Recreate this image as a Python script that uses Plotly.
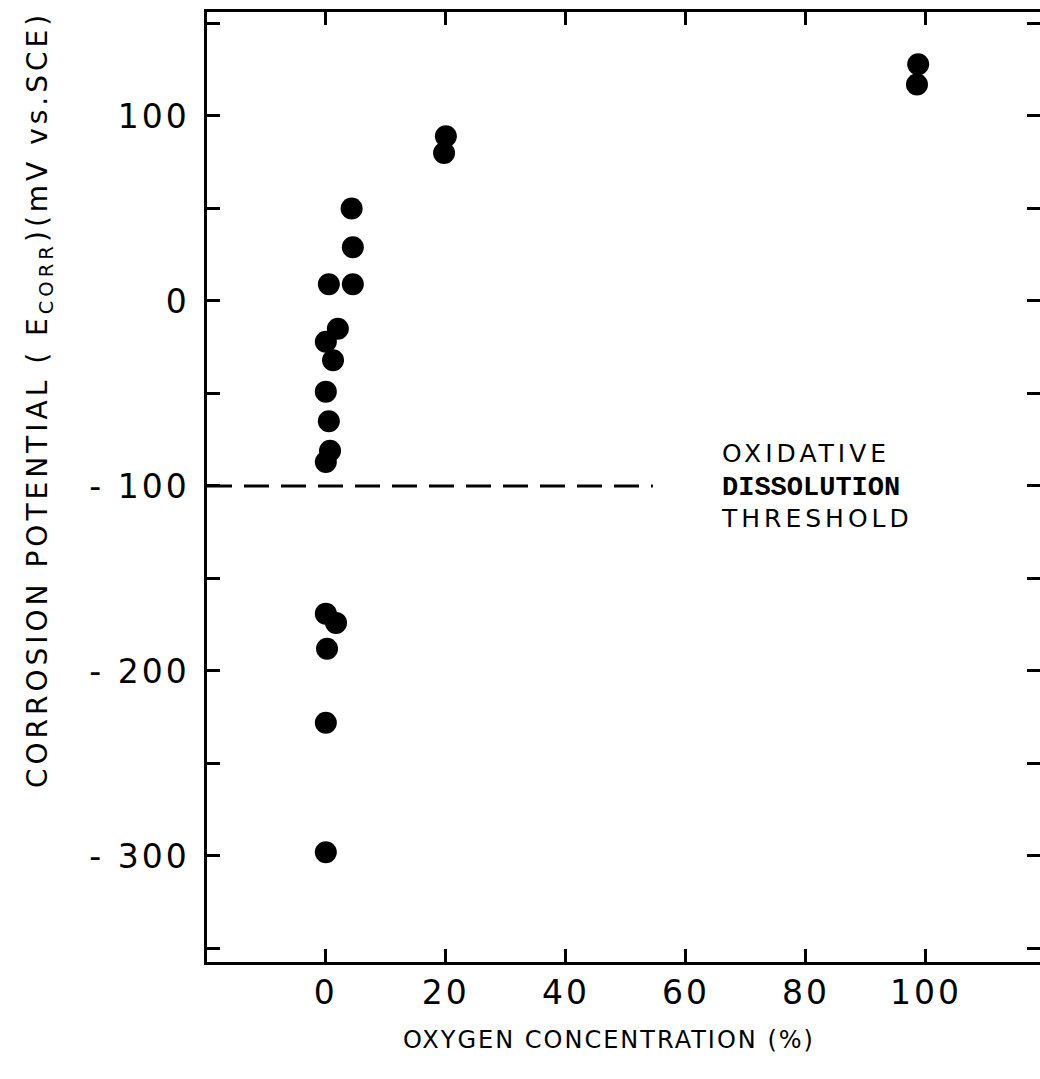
import plotly.graph_objects as go

# ---- data ----
oxygen_pct = [98.7, 98.5, 20.0, 19.7, 4.3, 4.5, 0.5, 4.5, 2.0, 0.0, 1.2, 0.0,
              0.5, 0.7, 0.0, 0.0, 1.7, 0.2, 0.0, 0.0]
ecorr_mv = [128, 117, 89, 80, 50, 29, 9, 9, -15, -22, -32, -49,
            -65, -81, -87, -169, -174, -188, -228, -298]
threshold_mv = -100
threshold_x = [-19.8, 54.5]
x_ticks = [0, 20, 40, 60, 80, 100]
y_ticks = [-300, -200, -100, 0, 100]
y_labels = ["- 300", "- 200", "- 100", "0", "100"]

X_RANGE = [-19.8, 119.0]
Y_RANGE = [-357.3, 156.2]

ls = "letter-spacing:3px"
y_ticktext = [f"<span style='{ls}'>{t}</span>" for t in y_labels]
x_ticktext = [f"<span style='{ls}'>{v}</span>" for v in x_ticks]

fig = go.Figure()

fig.add_trace(go.Scatter(
    x=threshold_x, y=[threshold_mv, threshold_mv], mode="lines",
    line=dict(color="black", width=3, dash="25px,12px"),
    hoverinfo="skip", showlegend=False))

fig.add_trace(go.Scatter(
    x=oxygen_pct, y=ecorr_mv, mode="markers",
    marker=dict(color="black", size=22, line=dict(width=0)),
    showlegend=False))

# invisible trace on secondary y axis for right-hand ticks
fig.add_trace(go.Scatter(x=[None], y=[None], yaxis="y2", showlegend=False))

tickfont = dict(family="DejaVu Sans", size=33, color="black")
minor_y = dict(dtick=50, tick0=0, ticks="inside", ticklen=13, tickwidth=2.5,
               tickcolor="black", showgrid=False)

fig.update_layout(
    width=1040, height=1079,
    margin=dict(l=207, r=0, t=12, b=117),
    paper_bgcolor="white", plot_bgcolor="white",
    xaxis=dict(range=X_RANGE, tickvals=x_ticks, ticktext=x_ticktext,
               ticks="inside", ticklen=13, tickwidth=2.5, tickcolor="black",
               showline=True, linewidth=2.5, linecolor="black", mirror="ticks",
               showgrid=False, zeroline=False, tickfont=tickfont,
               ticklabelstandoff=0),
    yaxis=dict(range=Y_RANGE, tickvals=y_ticks, ticktext=y_ticktext,
               ticks="inside", ticklen=13, tickwidth=2.5, tickcolor="black",
               showline=True, linewidth=2.5, linecolor="black", mirror=False,
               showgrid=False, zeroline=False, tickfont=tickfont,
               ticklabelstandoff=8, minor=minor_y),
    yaxis2=dict(range=Y_RANGE, overlaying="y", side="right", tickvals=y_ticks,
                ticks="inside", ticklen=13, tickwidth=2.5, tickcolor="black",
                showticklabels=False, showline=False, showgrid=False, zeroline=False,
                minor=minor_y),
    showlegend=False,
)

fig.add_annotation(
    xref="x", yref="y", x=65.5, y=threshold_mv, xanchor="left", yanchor="middle",
    showarrow=False, align="left",
    text=("<span style='letter-spacing:4px'>OXIDATIVE</span><br>"
          "<span style='font-family:Liberation Mono;font-weight:bold;font-size:27px'>DISSOLUTION</span><br>"
          "<span style='letter-spacing:4px'>THRESHOLD</span>"),
    font=dict(family="DejaVu Sans", size=25, color="black"))

fig.add_annotation(
    xref="paper", yref="paper", x=(609 - 207) / 833, y=-(1040 - 962) / 950,
    xanchor="center", yanchor="middle", showarrow=False,
    text="<span style='letter-spacing:2px'>OXYGEN CONCENTRATION (%)</span>",
    font=dict(family="DejaVu Sans", size=24, color="black"))

fig.add_annotation(
    xref="paper", yref="paper", x=-(207 - 40) / 833, y=(962 - 400) / 950,
    xanchor="center", yanchor="middle", showarrow=False, textangle=-90,
    text=("<span style='letter-spacing:4px'>CORROSION POTENTIAL ( E<sub>CORR</sub>)(mV vs.SCE)</span>"),
    font=dict(family="DejaVu Sans", size=28, color="black"))

fig.write_html("out.html")
